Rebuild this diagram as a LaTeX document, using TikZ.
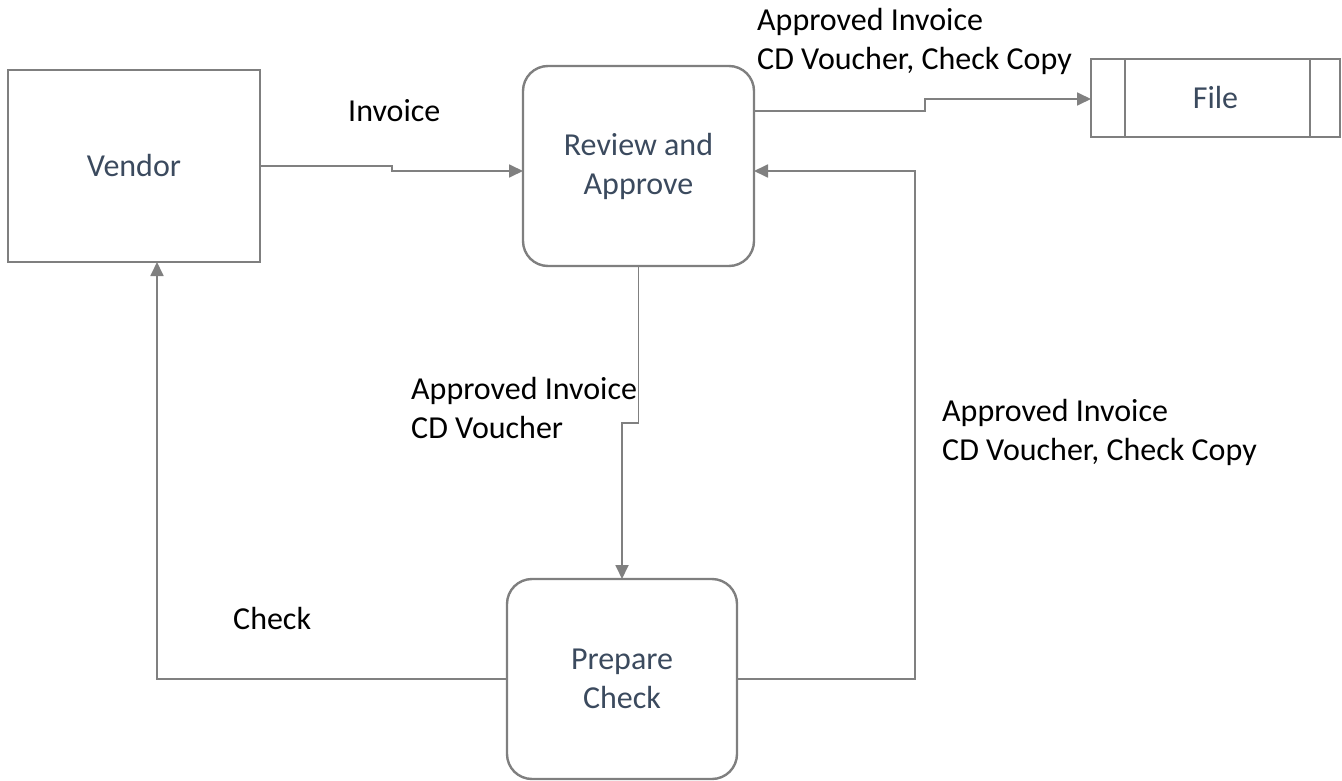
\documentclass[tikz,border=0pt]{standalone}
\usepackage{fontspec}
\setmainfont{Carlito}
\usetikzlibrary{arrows.meta}
\definecolor{edgegray}{HTML}{808080}
\definecolor{boxgray}{HTML}{7F7F7F}
\definecolor{slate}{HTML}{3B4A5E}
\begin{document}
\begin{tikzpicture}[x=1pt,y=-1pt,
  every node/.style={font=\fontsize{32}{39}\selectfont},
  procbox/.style={draw=boxgray,line width=2.4pt,rounded corners=25pt,
    minimum width=231pt,minimum height=200pt,inner sep=0pt,outer sep=0pt,
    align=center,text=slate},
  entity/.style={draw=boxgray,line width=2.4pt,inner sep=0pt,outer sep=0pt,
    align=center,text=slate},
  flow/.style={draw=edgegray,line width=1.8pt,
    -{Triangle[length=14pt,width=13pt]}},
  lbl/.style={anchor=west,align=left,text=black,inner sep=0pt}]
\useasboundingbox (0,0) rectangle (1342,781);

% entities and processes
\node[entity,minimum width=252pt,minimum height=192pt] (vendor) at (134,166) {Vendor};
\node[procbox] (review) at (638.5,166) {Review and\\Approve};
\node[procbox,minimum width=230pt] (prepare) at (622,679) {Prepare\\Check};
\node[entity,minimum width=249pt,minimum height=78pt] (file) at (1215.5,98) {File};
\draw[boxgray,line width=2.4pt] ([xshift=34pt]file.north west) -- ([xshift=34pt]file.south west);
\draw[boxgray,line width=2.4pt] ([xshift=-30pt]file.north east) -- ([xshift=-30pt]file.south east);

% data flows
\draw[flow] (vendor.east) -- (392,166) -- (392,171) -- (review.west |- 0,171);
\draw[flow] (review.east |- 0,111) -- (925,111) -- (925,99) -- (file.west |- 0,99);
\draw[flow] (review.south) -- (638.5,423) -- (622,423) -- (prepare.north);
\draw[flow] (prepare.west) -- (157,679) -- (vendor.south -| 157,0);
\draw[flow] (prepare.east) -- (915,679) -- (915,171) -- (review.east |- 0,171);

% flow labels
\node[lbl] (l-invoice) at (348,111) {Invoice};
\node[lbl] (l-file) at (757,41) {Approved Invoice\\CD Voucher, Check Copy};
\node[lbl] (l-down) at (411,408) {Approved Invoice\\CD Voucher};
\node[lbl] (l-back) at (942,432) {Approved Invoice\\CD Voucher, Check Copy};
\node[lbl] (l-check) at (233,618) {Check};
\end{tikzpicture}
\end{document}
